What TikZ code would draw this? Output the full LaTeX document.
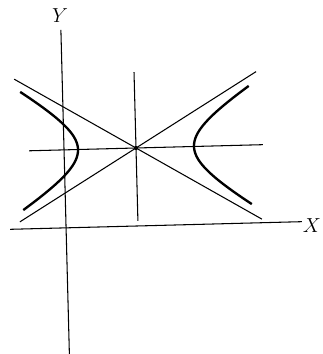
\documentclass[tikz,border=0pt]{standalone}
\usetikzlibrary{positioning}

\begin{document}
\begin{tikzpicture}[thinline/.style={line width=0.9pt},
    branch/.style={line width=2pt, smooth, samples=40},
    lbl/.style={font=\fontsize{19}{22}\selectfont, inner sep=0pt}]
\useasboundingbox (0,0) rectangle (9.66,10.62);

\begin{scope}[shift={(4.08,6.18)}, rotate=1.5, x=0.03cm, y=0.03cm]
    \coordinate (C) at (0,0);
    % coordinate axes
    \draw [thinline] (-72,120) coordinate (ytop) -- (-72,-205);
    \draw [thinline] (-128,-78) -- (164,-78) coordinate (xend);
    % axes of the hyperbola
    \draw [thinline] (-107,0) -- (127,0);
    \draw [thinline] (0,76) -- (0,-73);
    % asymptotes
    \draw [thinline] (-120,72) -- (124,-74.4);
    \draw [thinline] (-118,-70.8) -- (122,73.2);
    % the two branches
    \draw [branch] plot [domain=-1.3:1.3] ({58*cosh(\x)},{34.8*sinh(\x)});
    \draw [branch] plot [domain=-1.3:1.3] ({-58*cosh(\x)},{34.8*sinh(\x)});
    \fill (C) circle (1.8pt);
\end{scope}

\node [lbl] (ylabel) at (1.8,10.14) {$Y$};
\node [lbl] (xlabel) at (9.36,3.84) {$X$};
\end{tikzpicture}
\end{document}
